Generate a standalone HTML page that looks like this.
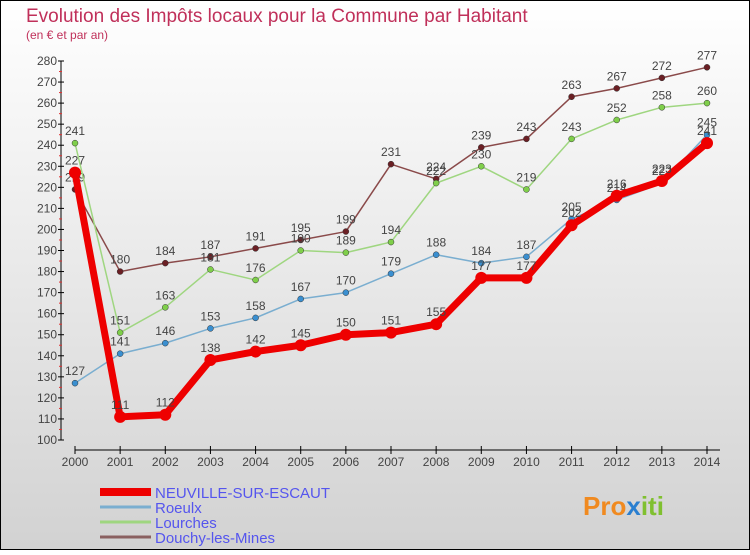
<!DOCTYPE html>
<html><head><meta charset="utf-8"><style>
html,body{margin:0;padding:0;}
body{width:750px;height:550px;overflow:hidden;font-family:"Liberation Sans",sans-serif;}
svg text{font-family:"Liberation Sans",sans-serif;}
</style></head><body>
<svg id="chart" width="750" height="550" xmlns="http://www.w3.org/2000/svg">
<defs><linearGradient id="bg" x1="0" y1="0" x2="0" y2="1"><stop offset="0" stop-color="#ffffff"/><stop offset="1" stop-color="#d2d2d2"/></linearGradient></defs>
<rect x="0.5" y="0.5" width="749" height="549" fill="url(#bg)" stroke="#000"/>
<text x="26" y="22" font-size="19" fill="#c0305a">Evolution des Impôts locaux pour la Commune par Habitant</text>
<text x="26" y="39" font-size="12" fill="#c0305a">(en € et par an)</text>
<g id="axes"></g>
<g id="series"></g>
<g id="legend"></g>
<text x="583" y="515" font-size="26" font-weight="bold" fill="#f08a20">Pro<tspan fill="#2a7fd0">x</tspan><tspan fill="#80c030">iti</tspan></text>
</svg>
<script>
const years=[2000,2001,2002,2003,2004,2005,2006,2007,2008,2009,2010,2011,2012,2013,2014];
const yTicks=[100,110,120,130,140,150,160,170,180,190,200,210,220,230,240,250,260,270,280];
const neuville=[227,111,112,138,142,145,150,151,155,177,177,202,216,223,241];
const roeulx=[127,141,146,153,158,167,170,179,188,184,187,205,214,222,245];
const lourches=[241,151,163,181,176,190,189,194,222,230,219,243,252,258,260];
const douchy=[219,180,184,187,191,195,199,231,224,239,243,263,267,272,277];
const names=["NEUVILLE-SUR-ESCAUT","Roeulx","Lourches","Douchy-les-Mines"];
const NS="http://www.w3.org/2000/svg";
const x=i=>75+i*(707-75)/(years.length-1);
const y=v=>440-(v-100)*(440-61)/180;
function mk(tag,attrs,parent){const e=document.createElementNS(NS,tag);for(const k in attrs)e.setAttribute(k,attrs[k]);parent.appendChild(e);return e;}
const ax=document.getElementById('axes');
const yaxis=mk('line',{x1:61,y1:61,x2:61,y2:440,stroke:'#000'},ax);


yTicks.forEach(t=>{
 mk('line',{x1:58,x2:64,y1:y(t),y2:y(t),stroke:'#000'},ax);
 if(t<280) mk('line',{x1:59,x2:62,y1:y(t+5),y2:y(t+5),stroke:'#e03030'},ax);
 const tx=mk('text',{x:57,y:y(t)+4,'font-size':12,'text-anchor':'end',fill:'#444'},ax);
 
 
 tx.textContent=t;
});
const xaxis=mk('line',{x1:75,y1:450,x2:720,y2:450,stroke:'#000'},ax);


years.forEach((yr,i)=>{
 mk('line',{x1:x(i),x2:x(i),y1:446,y2:454,stroke:'#000'},ax);
 const tx=mk('text',{x:x(i),y:466,'font-size':12,'text-anchor':'middle',fill:'#444'},ax);
 
 
 tx.textContent=yr;
});
const sg=document.getElementById('series');
const specs=[[douchy,'#6b1f24','#8a4a4a',1.5,3,'douchy'],[lourches,'#7fcf4a','#9fd680',1.5,3,'lourches'],[roeulx,'#3a8fd0','#7aaed0',1.5,3,'roeulx'],[neuville,'#ee0000','#ee0000',7,6,'neuville']];
specs.forEach(([d,dot,line,w,r,n])=>{
 const pts=d.map((v,i)=>x(i)+','+y(v)).join(' ');
 const pl=mk('polyline',{points:pts,fill:'none',stroke:line,'stroke-width':w,'stroke-linejoin':'round'},sg);
 
 
 d.forEach((v,i)=>{
  const c=mk('circle',{cx:x(i),cy:y(v),r:r,fill:dot,stroke:'#333','stroke-width':n==='neuville'?0:0.5},sg);
  
  
  const t=mk('text',{x:x(i),y:y(v)-8,'font-size':12,'text-anchor':'middle',fill:'#444'},sg);
  
  
  t.textContent=v;
 });
});
const lg=document.getElementById('legend');
const lcols=['#ee0000','#7aaed0','#9fd680','#8a6060'];const lw=[8,3,3,3];
names.forEach((nm,i)=>{
 const ly=492+i*15;
 mk('line',{x1:100,x2:151,y1:ly,y2:ly,stroke:lcols[i],'stroke-width':lw[i]},lg);
 const t=mk('text',{x:155,y:ly+6,'font-size':15,fill:'#5555ee'},lg);
 
 
 t.textContent=nm;
});
</script>
</body></html>
